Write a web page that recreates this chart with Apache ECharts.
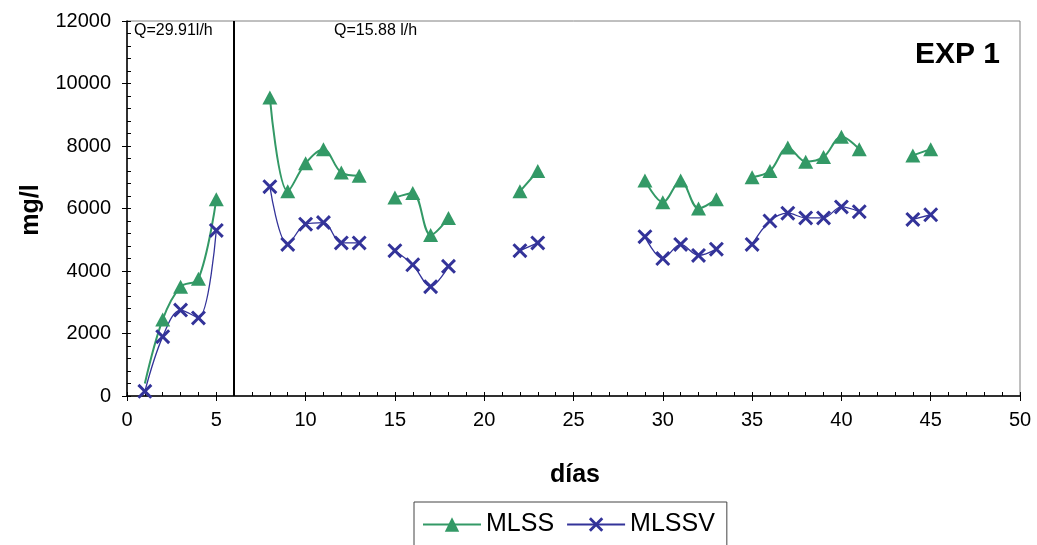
<!DOCTYPE html>
<html>
<head>
<meta charset="utf-8">
<script src="https://cdn.jsdelivr.net/npm/echarts@6/dist/echarts.min.js"></script>
<style>
  html, body { margin: 0; padding: 0; background: #fff; }
  #chart { width: 1037px; height: 545px; }
</style>
</head>
<body>
<div id="chart"></div>
<script>
// Sampling days and measured concentrations (mg/l)
const days  = [1, 2, 3, 4, 5, 8, 9, 10, 11, 12, 13, 15, 16, 17, 18, 22, 23, 29, 30, 31, 32, 33, 35, 36, 37, 38, 39, 40, 41, 44, 45];
const mlss  = [400, 2450, 3500, 3750, 6300, 9550, 6550, 7450, 7900, 7150, 7050, 6350, 6500, 5150, 5700, 6550, 7200, 6900, 6200, 6900, 6000, 6300, 7000, 7200, 7950, 7500, 7650, 8300, 7900, 7700, 7900];
const mlssv = [150, 1900, 2750, 2500, 5300, 6700, 4850, 5500, 5550, 4900, 4900, 4650, 4200, 3500, 4150, 4650, 4900, 5100, 4400, 4850, 4500, 4700, 4850, 5600, 5850, 5700, 5700, 6050, 5900, 5650, 5800];

// Flow-rate change day and the flow labels
const flowChangeDay = 6;
const flowLabels = ['Q=29.91l/h', 'Q=15.88 l/h'];

const GREEN = '#339966';
const BLUE = '#333399';
const FONT = 'Liberation Sans, Arial, sans-serif';

// Build [day, value] pairs, breaking the line wherever days are not consecutive
function buildSeries(values, hideFirstSymbol) {
  const out = [];
  for (let i = 0; i < days.length; i++) {
    if (i > 0 && days[i] - days[i - 1] > 1) out.push([days[i] - 1, '-']);
    if (i === 0 && hideFirstSymbol) out.push({ value: [days[i], values[i]], symbol: 'none' });
    else out.push([days[i], values[i]]);
  }
  return out;
}

const xMarker = 'path://M0,1.4L1.4,0L5,3.6L8.6,0L10,1.4L6.4,5L10,8.6L8.6,10L5,6.4L1.4,10L0,8.6L3.6,5Z';

const chart = echarts.init(document.getElementById('chart'), null, { renderer: 'canvas' });

const grid = { left: 127, right: 17, top: 21, bottom: 149, show: true, borderColor: '#808080', borderWidth: 1 };

chart.setOption({
  animation: false,
  backgroundColor: '#fff',
  grid: grid,
  xAxis: [
    {
      type: 'value', min: 0, max: 50, interval: 5,
      axisLine: { lineStyle: { color: '#000', width: 1.5 } },
      axisTick: { inside: false, length: 5, lineStyle: { color: '#000' } },
      axisLabel: { color: '#000', fontFamily: FONT, fontSize: 20, margin: 14 },
      splitLine: { show: false }
    },
    {
      type: 'value', min: 0, max: 50, interval: 1, position: 'bottom',
      axisLine: { show: false },
      axisTick: { inside: true, length: 4, lineStyle: { color: '#000' } },
      axisLabel: { show: false },
      splitLine: { show: false }
    }
  ],
  yAxis: [
    {
      type: 'value', min: 0, max: 12000, interval: 2000,
      axisLine: { show: true, lineStyle: { color: '#000', width: 1.5 } },
      axisTick: { show: true, inside: false, length: 5, lineStyle: { color: '#000' } },
      axisLabel: { color: '#000', fontFamily: FONT, fontSize: 20, margin: 16, formatter: v => String(v) },
      splitLine: { show: false }
    },
    {
      type: 'value', min: 0, max: 12000, interval: 400, position: 'left',
      axisLine: { show: false },
      axisTick: { show: true, inside: true, length: 4, lineStyle: { color: '#000' } },
      axisLabel: { show: false },
      splitLine: { show: false }
    }
  ],
  legend: {
    left: 414, top: 502,
    padding: [10, 12, 14, 8],
    borderColor: '#444', borderWidth: 1,
    itemWidth: 58, itemHeight: 18, itemGap: 12,
    textStyle: { color: '#000', fontFamily: FONT, fontSize: 25 },
    data: ['MLSS', 'MLSSV']
  },
  series: [
    {
      name: 'MLSS', type: 'line', xAxisIndex: 0, yAxisIndex: 0,
      data: buildSeries(mlss, true),
      smooth: 0.35,
      symbol: 'triangle', symbolSize: [15, 14],
      lineStyle: { color: GREEN, width: 2 },
      itemStyle: { color: GREEN },
      markLine: {
        silent: true, symbol: 'none',
        label: { show: false },
        lineStyle: { color: '#000', width: 2, type: 'solid' },
        data: [{ xAxis: flowChangeDay }]
      }
    },
    {
      name: 'MLSSV', type: 'line', xAxisIndex: 0, yAxisIndex: 0,
      data: buildSeries(mlssv, false),
      smooth: 0.35,
      symbol: xMarker, symbolSize: 15,
      lineStyle: { color: BLUE, width: 1.3 },
      itemStyle: { color: BLUE }
    }
  ],
  graphic: [
    { type: 'text', left: 134, top: 23, style: { text: flowLabels[0], fill: '#000', font: '16px ' + FONT } },
    { type: 'text', left: 334, top: 23, style: { text: flowLabels[1], fill: '#000', font: '16px ' + FONT } },
    { type: 'text', right: 37, top: 40, style: { text: 'EXP 1', fill: '#000', font: 'bold 30px ' + FONT } },
    { type: 'text', x: 31, y: 210, rotation: Math.PI / 2,
      style: { text: 'mg/l', fill: '#000', font: 'bold 25px ' + FONT, textAlign: 'center', textVerticalAlign: 'middle' } },
    { type: 'text', x: 575, y: 475,
      style: { text: 'días', fill: '#000', font: 'bold 25px ' + FONT, textAlign: 'center', textVerticalAlign: 'middle' } }
  ]
});
</script>
</body>
</html>
